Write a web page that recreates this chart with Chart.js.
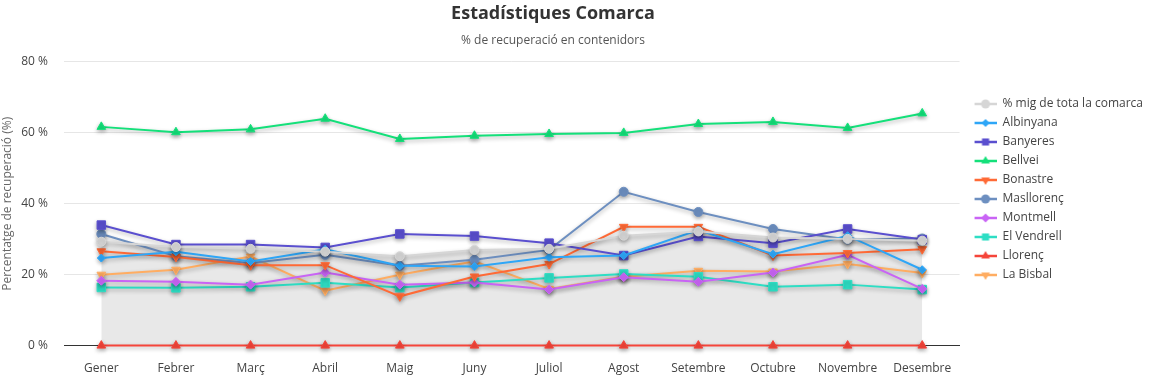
<!DOCTYPE html>
<html>
<head>
<meta charset="utf-8">
<script src="https://cdn.jsdelivr.net/npm/chart.js@4/dist/chart.umd.min.js"></script>
<style>
  html, body { margin: 0; padding: 0; background: #fff; }
  #wrap { width: 1153px; height: 376px; }
</style>
</head>
<body>
<div id="wrap"><canvas id="chart-comarca"></canvas></div>
<script>
const months = ["Gener", "Febrer", "Març", "Abril", "Maig", "Juny", "Juliol", "Agost", "Setembre", "Octubre", "Novembre", "Desembre"];
const yTicks = [0, 20, 40, 60, 80];

const mitjana   = [29.3, 27.8, 27.3, 26.5, 25.2, 27.0, 27.3, 31.0, 32.2, 30.5, 30.1, 29.6];
const albinyana = [24.7, 26.5, 23.7, 27.2, 22.5, 22.3, 24.9, 25.4, 32.6, 25.8, 31.0, 21.4];
const banyeres  = [34.0, 28.5, 28.5, 27.7, 31.5, 30.9, 28.9, 25.4, 30.8, 28.9, 32.9, 29.9];
const bellvei   = [61.7, 60.2, 61.0, 64.0, 58.3, 59.2, 59.7, 60.0, 62.5, 63.1, 61.4, 65.5];
const bonastre  = [26.6, 25.0, 22.7, 22.7, 13.9, 19.5, 23.0, 33.5, 33.5, 25.4, 26.1, 27.2];
const masllorenc = [31.5, 25.2, 23.3, 25.6, 22.5, 24.2, 27.0, 43.4, 37.7, 32.9, 29.9, 30.2];
const montmell  = [18.3, 18.0, 17.2, 20.6, 17.2, 17.8, 15.8, 19.3, 18.0, 20.6, 25.6, 16.0];
const vendrell  = [16.4, 16.3, 16.6, 17.7, 16.4, 17.8, 19.1, 20.2, 19.4, 16.6, 17.2, 15.8];
const llorenc   = [0, 0, 0, 0, 0, 0, 0, 0, 0, 0, 0, 0];
const bisbal    = [20.0, 21.4, 25.1, 15.5, 20.0, 23.8, 16.0, 19.4, 21.1, 20.9, 23.0, 20.5];

const TITLE = "Estadístiques Comarca";
const SUBTITLE = "% de recuperació en contenidors";
const FONT = "'Open Sans', sans-serif";

function serie(label, data, color, style, radius, rotation) {
    return {
        label: label,
        data: data,
        borderColor: color,
        backgroundColor: color,
        pointBackgroundColor: color,
        pointBorderColor: color,
        pointStyle: style,
        pointRadius: radius,
        pointHoverRadius: radius,
        pointRotation: rotation || 0,
        borderWidth: 2,
        pointBorderWidth: 1,
        tension: 0,
        clip: false,
    };
}

const datasets = [
    Object.assign(serie("% mig de tota la comarca", mitjana, "#d6d6d6", "circle", 4.5), {
        fill: "origin",
        backgroundColor: "#e8e8e8",
    }),
    serie("Albinyana", albinyana, "#2ea6f7", "rectRot", 4),
    serie("Banyeres", banyeres, "#5a4fcf", "rect", 6),
    serie("Bellvei", bellvei, "#14e07a", "triangle", 5),
    serie("Bonastre", bonastre, "#ff6a36", "triangle", 5, 180),
    serie("Masllorenç", masllorenc, "#6d8fc0", "circle", 4.5),
    serie("Montmell", montmell, "#c964f5", "rectRot", 4.5),
    serie("El Vendrell", vendrell, "#2edec4", "rect", 6),
    serie("Llorenç", llorenc, "#f5453a", "triangle", 5),
    serie("La Bisbal", bisbal, "#ffad62", "triangle", 5, 180),
];

// legend icon: short line with the marker on it (left part kept empty as a gap)
function legendIcon(ds) {
    const c = document.createElement("canvas");
    c.width = 30;
    c.height = 12;
    const ctx = c.getContext("2d");
    ctx.strokeStyle = ds.borderColor;
    ctx.lineWidth = 2.5;
    ctx.beginPath();
    ctx.moveTo(8, 6);
    ctx.lineTo(30, 6);
    ctx.stroke();
    ctx.fillStyle = ds.borderColor;
    Chart.helpers.drawPoint(ctx, {
        pointStyle: ds.pointStyle,
        rotation: ds.pointRotation,
        radius: Math.min(ds.pointRadius, 5),
        borderWidth: 0,
    }, 19, 6);
    return c;
}

const lineShadow = {
    id: "lineShadow",
    beforeDatasetDraw(chart) {
        const ctx = chart.ctx;
        ctx.save();
        ctx.shadowColor = "rgba(0, 0, 0, 0.3)";
        ctx.shadowBlur = 4;
        ctx.shadowOffsetY = 2;
    },
    afterDatasetDraw(chart) {
        chart.ctx.restore();
    },
};

// the titles sit a bit left of the canvas centre in the original
const titleShift = {
    id: "titleShift",
    afterLayout(chart) {
        chart.boxes.forEach((b) => {
            if (b.options && (b.options.text === TITLE || b.options.text === SUBTITLE)) {
                b.right = chart.width - 47;
            }
        });
    },
};

const config = {
    type: "line",
    data: { labels: months, datasets: datasets },
    options: {
        responsive: true,
        maintainAspectRatio: false,
        animation: false,
        layout: { padding: { top: 3, right: 0, bottom: 0, left: 0 } },
        plugins: {
            filler: { drawTime: "beforeDatasetsDraw" },
            title: {
                display: true,
                text: TITLE,
                color: "#333",
                font: { family: FONT, size: 18, weight: "bold" },
                padding: { top: 0, bottom: 9 },
            },
            subtitle: {
                display: true,
                text: SUBTITLE,
                color: "#555",
                font: { family: FONT, size: 12 },
                padding: { top: 0, bottom: 14 },
            },
            legend: {
                position: "right",
                labels: {
                    usePointStyle: true,
                    pointStyleWidth: 30,
                    color: "#444",
                    padding: 7,
                    font: { family: FONT, size: 12 },
                    generateLabels(chart) {
                        return Chart.defaults.plugins.legend.labels.generateLabels(chart).map((item) => {
                            const ds = chart.data.datasets[item.datasetIndex];
                            item.pointStyle = legendIcon(ds);
                            item.rotation = 0;
                            return item;
                        });
                    },
                },
            },
            tooltip: { enabled: false },
        },
        scales: {
            x: {
                offset: true,
                grid: { display: false, tickLength: 16 },
                border: { display: true, color: "#333", width: 1 },
                ticks: { color: "#444", padding: 0, font: { family: FONT, size: 12 } },
            },
            y: {
                min: yTicks[0],
                max: yTicks[yTicks.length - 1],
                afterBuildTicks(scale) {
                    scale.ticks = yTicks.map((v) => ({ value: v }));
                },
                afterFit(scale) {
                    scale.width = 64;
                },
                grid: { color: "#e6e6e6", drawTicks: false },
                border: { display: false },
                ticks: {
                    color: "#444",
                    padding: 16,
                    font: { family: FONT, size: 12 },
                    callback: (v) => v + " %",
                },
                title: {
                    display: true,
                    text: "Percentatge de recuperació (%)",
                    color: "#666",
                    font: { family: FONT, size: 12 },
                    padding: 0,
                },
            },
        },
    },
    plugins: [lineShadow, titleShift],
};

const myChart = new Chart(document.getElementById("chart-comarca"), config);
</script>
</body>
</html>
